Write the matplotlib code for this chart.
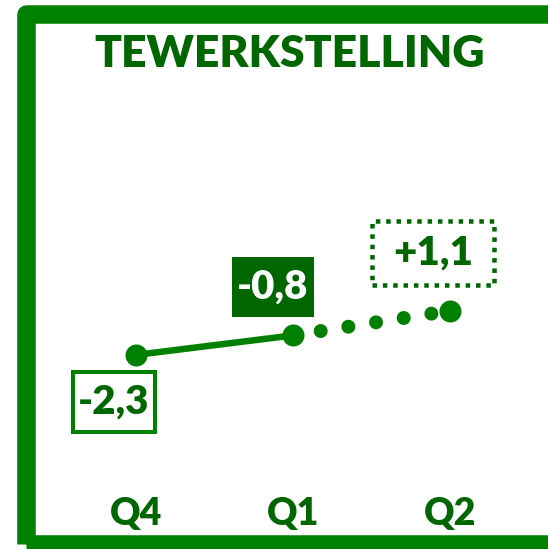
import matplotlib as mpl
import matplotlib.pyplot as plt
import matplotlib.transforms as mtransforms
from matplotlib.patches import Rectangle

# --- data ---
quarters = ["Q4", "Q1", "Q2"]
values = [-2.3, -0.8, 1.1]
labels = ["-2,3", "-0,8", "+1,1"]

# --- style ---
green = "#008000"
dark_green = "#006600"
mpl.rcParams["font.family"] = ["Lato", "DejaVu Sans"]
weight = "heavy"

W, H = 548, 549
fig = plt.figure(figsize=(W / 100, H / 100), dpi=100)
ax = fig.add_axes([0, 0, 1, 1])
ax.set_xlim(-0.866, 2.624)
ax.set_ylim(-17.23, 25.0)
ax.axis("off")

px = 72 / 100  # points per pixel

# thick frame (runs off the right / bottom edge)
frame = Rectangle(
    (25.5 / W, 1 - 544 / H), (552 - 25.5) / W, (544 - 14) / H,
    transform=ax.transAxes, fill=False, edgecolor=green,
    linewidth=18.5 * px, joinstyle="round", clip_on=False, zorder=1,
)
ax.add_patch(frame)

ax.text(290 / W, 1 - 54 / H, "TEWERKSTELLING", transform=ax.transAxes,
        ha="center", va="center", fontsize=32, fontweight=weight, color=dark_green)

x = list(range(len(quarters)))

# solid Q4 -> Q1, dotted Q1 -> Q2
ax.plot(x[:2], values[:2], color=green, lw=6.5 * px, solid_capstyle="round", zorder=3)
ax.plot(x[1:], values[1:], color=green, lw=14 * px, dash_capstyle="round",
        linestyle=(0, (0.001, 28 / 14)), zorder=3)
ax.plot(x, values, "o", color=green, markersize=22 * px, markeredgewidth=0, zorder=4)

# value labels: box (w, h) in pixels, centred at an offset from the point
offsets = [(-22, -47), (-20, 48), (-17, 58)]
sizes = [(82, 60), (82, 60), (122, 64)]
box_kw = [
    dict(facecolor="white", edgecolor=green, linewidth=4 * px),
    dict(facecolor=dark_green, edgecolor="none", linewidth=0),
    dict(facecolor="none", edgecolor=dark_green, linewidth=4.5 * px,
         linestyle=(0, (1, 1.3))),
]
text_colors = [dark_green, "white", dark_green]
for xi, v, lab, off, (bw, bh), kw, tc in zip(x, values, labels, offsets, sizes,
                                                box_kw, text_colors):
    trans = mtransforms.Affine2D() + mtransforms.ScaledTranslation(xi, v, ax.transData)
    ax.add_patch(Rectangle((off[0] - bw / 2, off[1] - bh / 2), bw, bh,
                           transform=trans, zorder=5, **kw))
    ax.annotate(lab, xy=(xi, v), xytext=off, textcoords="offset pixels",
                ha="center", va="center", fontsize=29, fontweight=weight,
                color=tc, zorder=6)

# category labels
for xi, q in zip(x, quarters):
    ax.annotate(q, xy=(xi, 0), xycoords=("data", "axes fraction"),
                xytext=(0, 549 - 514), textcoords="offset pixels",
                ha="center", va="center", fontsize=27, fontweight=weight, color=dark_green)

fig.savefig("out.png", dpi=100, facecolor="white")
